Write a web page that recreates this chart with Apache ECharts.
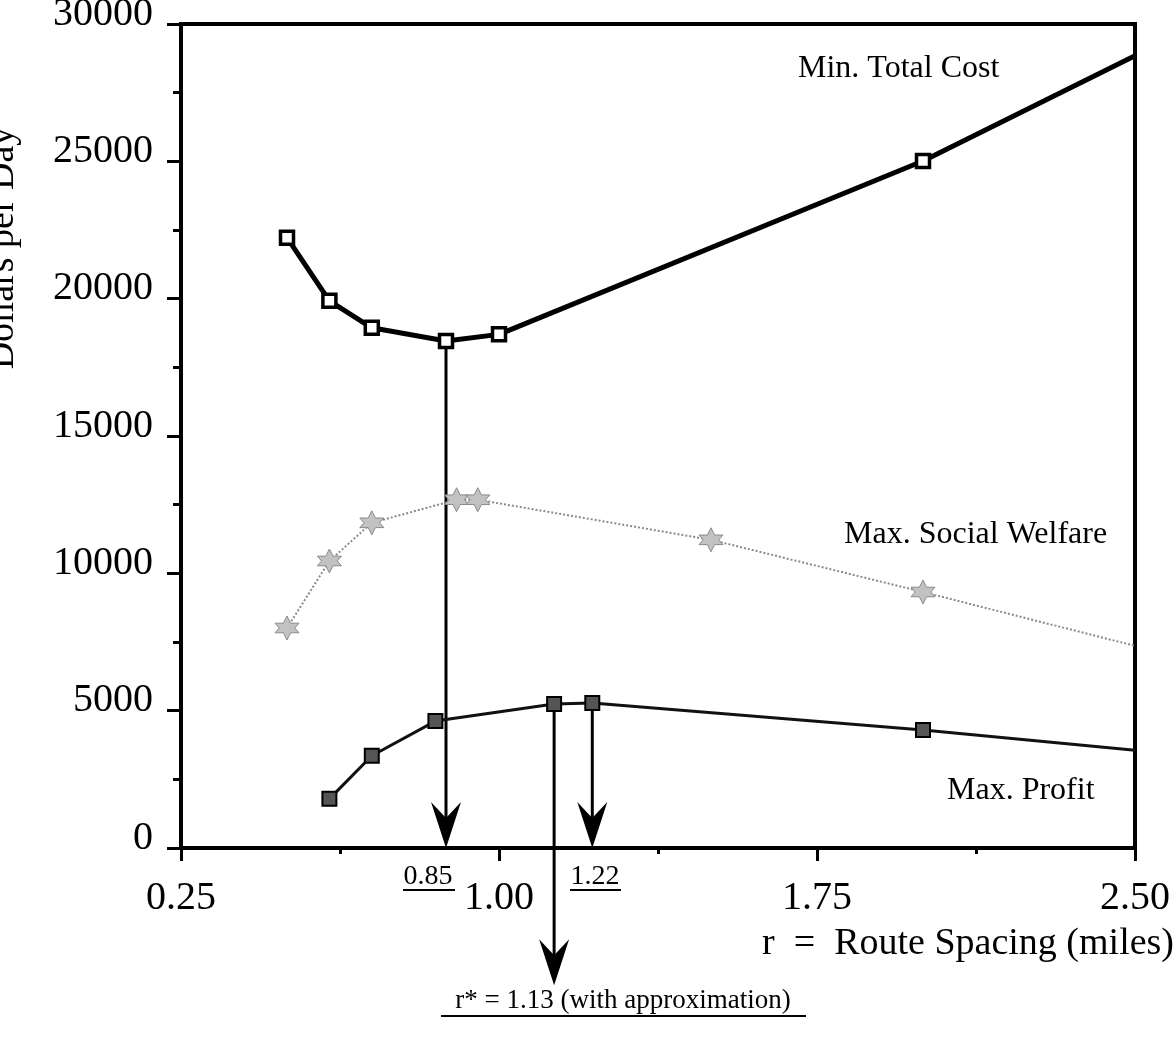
<!DOCTYPE html>
<html>
<head>
<meta charset="utf-8">
<title>Route spacing</title>
<script src="https://cdn.jsdelivr.net/npm/echarts@6/dist/echarts.min.js"></script>
<style>
  html, body { margin: 0; padding: 0; background: #fff; }
  #chart { width: 1176px; height: 1043px; }
</style>
</head>
<body>
<div id="chart"></div>
<script>
// route spacing r (miles) and dollars per day
var costR = [0.5, 0.6, 0.7, 0.875, 1.0, 2.0, 2.5];
var costVal = [22220, 19920, 18940, 18460, 18700, 25010, 28840];

var welfareR = [0.5, 0.6, 0.7, 0.9, 0.95, 1.5, 2.0, 2.5];
var welfareVal = [8010, 10450, 11840, 12680, 12680, 11220, 9320, 7360];

var profitR = [0.6, 0.7, 0.85, 1.13, 1.22, 2.0, 2.5];
var profitVal = [1790, 3360, 4620, 5240, 5280, 4300, 3560];

// arrows: x, from value, down to value
var arrowR = [0.875, 1.13, 1.22];
var arrowFrom = [18460, 5240, 5280];
var arrowTo = [0, -5000, 0];

var xTicks = [0.25, 1.00, 1.75, 2.50];
var yTicks = [0, 5000, 10000, 15000, 20000, 25000, 30000];

var serif = '"Liberation Serif", "DejaVu Serif", serif';

// last point of each curve sits on the right border without a marker
function pts(rs, vs) {
    var out = [];
    for (var i = 0; i < rs.length; i++) {
        if (rs[i] >= xTicks[xTicks.length - 1]) {
            out.push({ value: [rs[i], vs[i]], symbol: 'none' });
        } else {
            out.push([rs[i], vs[i]]);
        }
    }
    return out;
}

var arrowData = [];
for (var k = 0; k < arrowR.length; k++) {
    arrowData.push([arrowR[k], arrowFrom[k], arrowTo[k]]);
}

var star = 'path://M10,0 L13,6 L20,6 L16.5,10 L20,14 L13,14 L10,20 L7,14 L0,14 L3.5,10 L0,6 L7,6 Z';

var myChart = echarts.init(document.getElementById('chart'));

var option = {
    animation: false,
    backgroundColor: '#fff',
    grid: {
        left: 181, right: 41, top: 24, bottom: 195,
        outerBoundsMode: 'none',
        show: true, borderColor: '#000', borderWidth: 4
    },
    xAxis: {
        type: 'value',
        min: xTicks[0], max: xTicks[xTicks.length - 1], interval: 0.75,
        axisLine: { lineStyle: { color: '#000', width: 4 } },
        axisTick: { length: 13, lineStyle: { color: '#000', width: 3 } },
        minorTick: { show: true, splitNumber: 2, length: 6, lineStyle: { color: '#000', width: 3 } },
        splitLine: { show: false },
        axisLabel: {
            color: '#000', fontFamily: serif, fontSize: 40, margin: 30,
            showMinLabel: true, showMaxLabel: true,
            formatter: function (v) { return v.toFixed(2); }
        }
    },
    yAxis: {
        type: 'value',
        min: yTicks[0], max: yTicks[yTicks.length - 1], interval: 5000,
        axisLine: { lineStyle: { color: '#000', width: 4 } },
        axisTick: { length: 14, lineStyle: { color: '#000', width: 3 } },
        minorTick: { show: true, splitNumber: 2, length: 8, lineStyle: { color: '#000', width: 3 } },
        splitLine: { show: false },
        axisLabel: {
            color: '#000', fontFamily: serif, fontSize: 40, margin: 28,
            verticalAlign: 'bottom', lineHeight: 20,
            formatter: function (v) { return String(v); }
        }
    },
    series: [
        {
            type: 'custom',
            name: 'arrows',
            z: 1,
            clip: false,
            data: arrowData,
            renderItem: function (params, api) {
                var p1 = api.coord([api.value(0), api.value(1)]);
                var p2 = api.coord([api.value(0), api.value(2)]);
                return {
                    type: 'group',
                    children: [
                        {
                            type: 'line',
                            shape: { x1: p1[0], y1: p1[1], x2: p2[0], y2: p2[1] - 20 },
                            style: { stroke: '#000', lineWidth: 3 }
                        },
                        {
                            type: 'polygon',
                            shape: {
                                points: [
                                    [p2[0], p2[1]],
                                    [p2[0] - 15, p2[1] - 46],
                                    [p2[0], p2[1] - 30],
                                    [p2[0] + 15, p2[1] - 46]
                                ]
                            },
                            style: { fill: '#000' }
                        }
                    ]
                };
            }
        },
        {
            type: 'line',
            name: 'Max. Social Welfare',
            z: 2,
            data: pts(welfareR, welfareVal),
            lineStyle: { color: '#8a8a8a', width: 2, type: 'dotted' },
            symbol: star,
            symbolSize: 24,
            itemStyle: { color: '#c2c2c2', borderColor: '#8a8a8a', borderWidth: 1 }
        },
        {
            type: 'line',
            name: 'Max. Profit',
            z: 3,
            data: pts(profitR, profitVal),
            lineStyle: { color: '#111', width: 3 },
            symbol: 'rect',
            symbolSize: 14,
            itemStyle: { color: '#555', borderColor: '#000', borderWidth: 2 }
        },
        {
            type: 'line',
            name: 'Min. Total Cost',
            z: 4,
            data: pts(costR, costVal),
            lineStyle: { color: '#000', width: 5 },
            symbol: 'rect',
            symbolSize: 13,
            itemStyle: { color: '#fff', borderColor: '#000', borderWidth: 3.5 }
        }
    ],
    graphic: [
        {
            type: 'text', x: 3, y: 248, rotation: Math.PI / 2,
            style: { text: 'Dollars per Day', font: '38px ' + serif, fill: '#000', textAlign: 'center', textVerticalAlign: 'middle' }
        },
        {
            type: 'text', x: 798, y: 69,
            style: { text: 'Min. Total Cost', font: '32px ' + serif, fill: '#000', textAlign: 'left', textVerticalAlign: 'middle' }
        },
        {
            type: 'text', x: 844, y: 535,
            style: { text: 'Max. Social Welfare', font: '32px ' + serif, fill: '#000', textAlign: 'left', textVerticalAlign: 'middle' }
        },
        {
            type: 'text', x: 947, y: 791,
            style: { text: 'Max. Profit', font: '32px ' + serif, fill: '#000', textAlign: 'left', textVerticalAlign: 'middle' }
        },
        {
            type: 'text', x: 1174, y: 944,
            style: { text: 'r  =  Route Spacing (miles)', font: '38px ' + serif, fill: '#000', textAlign: 'right', textVerticalAlign: 'middle' }
        },
        {
            type: 'text', x: 428, y: 877,
            style: { text: '0.85', font: '28px ' + serif, fill: '#000', textAlign: 'center', textVerticalAlign: 'middle' }
        },
        { type: 'line', shape: { x1: 403, y1: 890, x2: 455, y2: 890 }, style: { stroke: '#000', lineWidth: 2 } },
        {
            type: 'text', x: 595, y: 877,
            style: { text: '1.22', font: '28px ' + serif, fill: '#000', textAlign: 'center', textVerticalAlign: 'middle' }
        },
        { type: 'line', shape: { x1: 570, y1: 890, x2: 621, y2: 890 }, style: { stroke: '#000', lineWidth: 2 } },
        {
            type: 'text', x: 623, y: 1001,
            style: { text: 'r* = 1.13 (with approximation)', font: '27px ' + serif, fill: '#000', textAlign: 'center', textVerticalAlign: 'middle' }
        },
        { type: 'line', shape: { x1: 441, y1: 1016, x2: 806, y2: 1016 }, style: { stroke: '#000', lineWidth: 2 } }
    ]
};

myChart.setOption(option);
</script>
</body>
</html>
